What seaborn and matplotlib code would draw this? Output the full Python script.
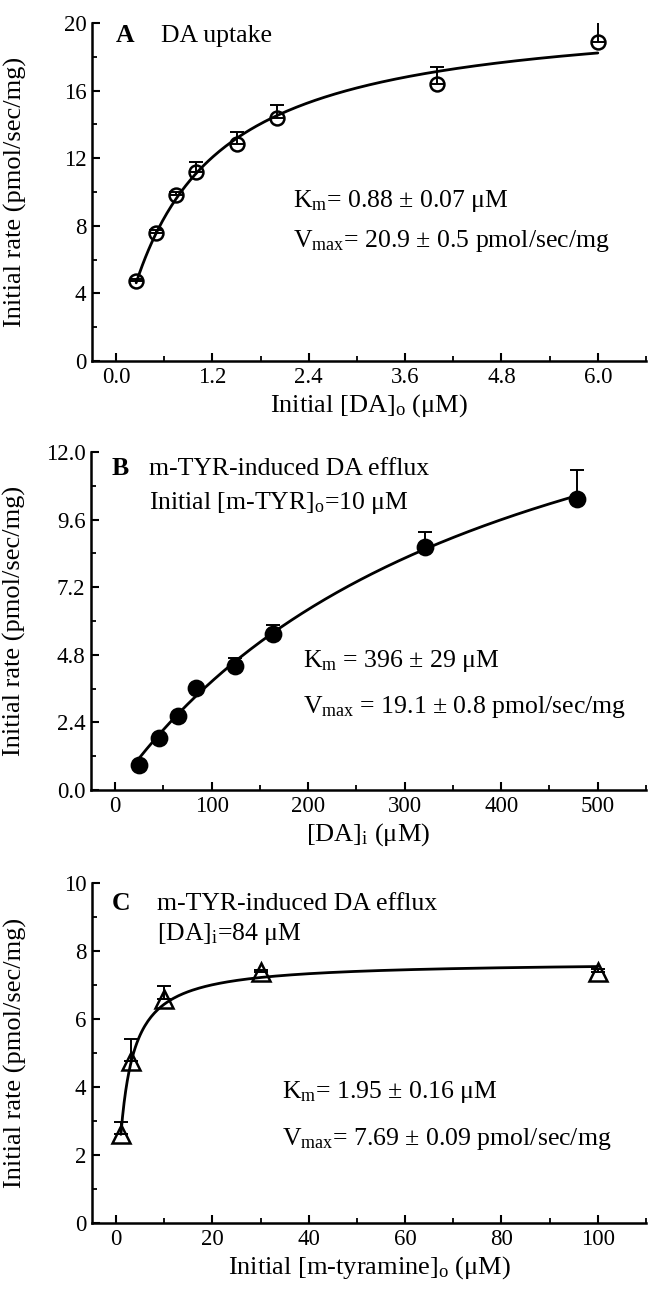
import numpy as np
import pandas as pd
import matplotlib
matplotlib.use("Agg")
import matplotlib.pyplot as plt
from matplotlib.ticker import MultipleLocator, FormatStrFormatter
import seaborn as sns

# ---------------- data ----------------
# Panel A: DA uptake
a_conc = [0.25, 0.5, 0.75, 1.0, 1.5, 2.0, 4.0, 6.0]
a_rate = [4.71, 7.55, 9.82, 11.16, 12.84, 14.38, 16.39, 18.9]
a_err = [0.15, 0.2, 0.2, 0.6, 0.7, 0.77, 1.0, 1.15]
a_km, a_vmax = 0.88, 20.9

# Panel B: m-TYR-induced DA efflux vs [DA]i
b_conc = [25, 45, 65, 84, 124, 164, 321, 479]
b_rate = [0.89, 1.83, 2.62, 3.61, 4.41, 5.53, 8.63, 10.32]
b_err = [0.05, 0.05, 0.08, 0.1, 0.26, 0.32, 0.53, 1.05]
b_km, b_vmax = 396, 19.1

# Panel C: m-TYR-induced DA efflux vs [m-tyramine]o
c_conc = [1, 3, 10, 30, 100]
c_rate = [2.62, 4.76, 6.58, 7.37, 7.37]
c_err = [0.36, 0.65, 0.39, 0.08, 0.1]
c_km, c_vmax = 1.95, 7.69

# ---------------- style ----------------
sns.set_style("ticks")
plt.rcParams["font.family"] = ["Liberation Serif", "DejaVu Serif"]
plt.rcParams["mathtext.fontset"] = "custom"
plt.rcParams["mathtext.rm"] = "Liberation Serif"
plt.rcParams["mathtext.it"] = "Liberation Serif"
plt.rcParams["mathtext.bf"] = "Liberation Serif:bold"
for k in ["text.color", "axes.labelcolor", "xtick.color", "ytick.color", "axes.edgecolor"]:
    plt.rcParams[k] = "black"

fig = plt.figure(figsize=(6.48, 12.95), dpi=100)
W, H = 648, 1295


def make_ax(left, right, top, bottom):
    return fig.add_axes([left / W, 1 - bottom / H, (right - left) / W, (bottom - top) / H])


axA = make_ax(92, 646, 23, 361)
axB = make_ax(91, 646, 452, 790)
axC = make_ax(92, 646, 883, 1223)

FS_TICK = 16.5
FS_LAB = 19
FS_TXT = 18.5


def style(ax, xlim, ylim, xmaj, xmin, ymaj, ymin, xfmt, yfmt):
    ax.set_xlim(*xlim)
    ax.set_ylim(*ylim)
    ax.xaxis.set_major_locator(MultipleLocator(xmaj))
    ax.xaxis.set_minor_locator(MultipleLocator(xmin))
    ax.yaxis.set_major_locator(MultipleLocator(ymaj))
    ax.yaxis.set_minor_locator(MultipleLocator(ymin))
    ax.xaxis.set_major_formatter(FormatStrFormatter(xfmt))
    ax.yaxis.set_major_formatter(FormatStrFormatter(yfmt))
    for s in ["top", "right"]:
        ax.spines[s].set_visible(False)
    for s in ["left", "bottom"]:
        ax.spines[s].set_linewidth(1.8)
        ax.spines[s].set_color("black")
    ax.tick_params(which="major", direction="in", length=6, width=1.5,
                   labelsize=FS_TICK, colors="black", pad=4)
    ax.tick_params(which="minor", direction="in", length=3.5, width=1.3, colors="black")
    ax.set_ylabel("Initial rate (pmol/sec/mg)", fontsize=FS_LAB)
    ax.yaxis.set_label_coords(-0.118, 0.5)


def panel(ax, conc, rate, err, km, vmax, marker, mfc, ms):
    xs = np.linspace(min(conc), max(conc), 300)
    fit = pd.DataFrame({"x": xs, "y": vmax * xs / (km + xs)})
    sns.lineplot(data=fit, x="x", y="y", ax=ax, color="black", linewidth=2.0, zorder=2)
    ax.errorbar(conc, rate, yerr=[np.zeros(len(err)), err], fmt="none",
                ecolor="black", elinewidth=1.4, capsize=5, capthick=1.4, zorder=3)
    ax.plot(conc, rate, linestyle="none", marker=marker, markersize=ms,
            markerfacecolor=mfc, markeredgecolor="black", markeredgewidth=1.8, zorder=4)
    ax.set_xlabel("")
    ax.set_ylabel("")


# ---- Panel A ----
panel(axA, a_conc, a_rate, a_err, a_km, a_vmax, "o", "none", 10)
style(axA, (-0.3, 6.6), (0, 20), 1.2, 0.6, 4, 2, "%.1f", "%d")
axA.set_xlabel(r"Initial [DA]$_{\rm o}$ ($\mu$M)", fontsize=FS_LAB, labelpad=3)
axA.text(0.043, 0.944, "A", transform=axA.transAxes, fontsize=FS_TXT, fontweight="bold")
axA.text(0.125, 0.944, "DA uptake", transform=axA.transAxes, fontsize=FS_TXT)
axA.text(0.362, 0.456, r"K$_{\rm m}$= 0.88 ± 0.07 μM", transform=axA.transAxes, fontsize=FS_TXT)
axA.text(0.362, 0.337, r"V$_{\rm max}$= 20.9 ± 0.5 pmol/sec/mg", transform=axA.transAxes, fontsize=FS_TXT)

# ---- Panel B ----
panel(axB, b_conc, b_rate, b_err, b_km, b_vmax, "o", "black", 11)
style(axB, (-25, 550), (0, 12), 100, 50, 2.4, 1.2, "%d", "%.1f")
axB.set_xlabel(r"[DA]$_{\rm i}$ ($\mu$M)", fontsize=FS_LAB, labelpad=3)
axB.text(0.037, 0.932, "B", transform=axB.transAxes, fontsize=FS_TXT, fontweight="bold")
axB.text(0.104, 0.932, "m-TYR-induced DA efflux", transform=axB.transAxes, fontsize=FS_TXT)
axB.text(0.104, 0.830, r"Initial [m-TYR]$_{\rm o}$=10 μM", transform=axB.transAxes, fontsize=FS_TXT)
axB.text(0.382, 0.365, r"K$_{\rm m}$ = 396 ± 29 μM", transform=axB.transAxes, fontsize=FS_TXT)
axB.text(0.382, 0.228, r"V$_{\rm max}$ = 19.1 ± 0.8 pmol/sec/mg", transform=axB.transAxes, fontsize=FS_TXT)

# ---- Panel C ----
panel(axC, c_conc, c_rate, c_err, c_km, c_vmax, "^", "none", 12.5)
style(axC, (-5, 110), (0, 10), 20, 10, 2, 1, "%d", "%d")
axC.set_xlabel(r"Initial [m-tyramine]$_{\rm o}$ ($\mu$M)", fontsize=FS_LAB, labelpad=3)
axC.text(0.035, 0.92, "C", transform=axC.transAxes, fontsize=FS_TXT, fontweight="bold")
axC.text(0.117, 0.92, "m-TYR-induced DA efflux", transform=axC.transAxes, fontsize=FS_TXT)
axC.text(0.117, 0.832, r"[DA]$_{\rm i}$=84 μM", transform=axC.transAxes, fontsize=FS_TXT)
axC.text(0.343, 0.368, r"K$_{\rm m}$= 1.95 ± 0.16 μM", transform=axC.transAxes, fontsize=FS_TXT)
axC.text(0.343, 0.229, r"V$_{\rm max}$= 7.69 ± 0.09 pmol/sec/mg", transform=axC.transAxes, fontsize=FS_TXT)

fig.savefig("out.png", dpi=100)
